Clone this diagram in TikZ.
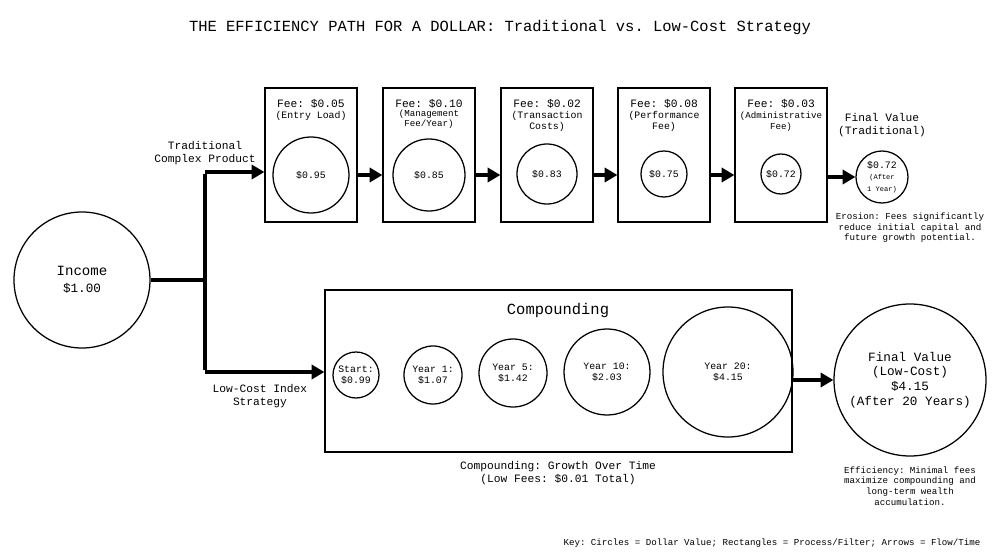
\documentclass[tikz,border=0pt]{standalone}
\usepackage{fontspec}
\setmainfont{Liberation Mono}
\frenchspacing
\usetikzlibrary{arrows.meta}
\begin{document}
\begin{tikzpicture}[x=0.025cm,y=-0.025cm,
    money/.style={shape=circle,draw=black,line width=0.9pt,inner sep=0pt,align=center,font=\fontsize{7}{8}\selectfont},
    feebox/.style={shape=rectangle,draw=black,line width=0.9pt,minimum width=92*0.025cm,minimum height=134*0.025cm},
    note/.style={align=center,font=\fontsize{7}{8}\selectfont},
    flow/.style={-{Triangle[length=9pt,width=10pt]},line width=2.6pt}]
                \useasboundingbox (0,0) rectangle (1000,558);
                \node at (500,28) {\fontsize{11}{13}\selectfont THE EFFICIENCY PATH FOR A DOLLAR: Traditional vs. Low-Cost Strategy};

                \node[money,minimum size=136*0.025cm,font=\fontsize{10}{12}\selectfont] (Inc) at (82,280) {Income\\{\fontsize{9}{10}\selectfont \$1.00}};
                \coordinate (J) at (205,280);
                \coordinate (JT) at (205,172);
                \coordinate (JL) at (205,372);
                \node[note,font=\fontsize{8}{9}\selectfont] at (205,153) {Traditional\\Complex Product};
                \node[note,font=\fontsize{8}{9}\selectfont] at (260,396) {Low-Cost Index\\Strategy};

                % traditional product
                \node[feebox] (B1) at (311,155) {};
                \node[feebox] (B2) at (429,155) {};
                \node[feebox] (B3) at (547,155) {};
                \node[feebox] (B4) at (664,155) {};
                \node[feebox] (B5) at (781,155) {};
                \node[note,anchor=north] at (311,94) {\fontsize{8}{9}\selectfont Fee: \$0.05\\(Entry Load)};
                \node[note,anchor=north,font=\fontsize{6.5}{7}\selectfont] at (429,94) {{\fontsize{8}{9}\selectfont Fee: \$0.10}\\(Management\\Fee/Year)};
                \node[note,anchor=north,font=\fontsize{7}{8}\selectfont] at (547,94) {{\fontsize{8}{9}\selectfont Fee: \$0.02}\\(Transaction\\Costs)};
                \node[note,anchor=north,font=\fontsize{7}{8}\selectfont] at (664,94) {{\fontsize{8}{9}\selectfont Fee: \$0.08}\\(Performance\\Fee)};
                \node[note,anchor=north,font=\fontsize{6.5}{8}\selectfont] at (781,94) {{\fontsize{8}{9}\selectfont Fee: \$0.03}\\(Administrative\\Fee)};
                \node[money,minimum size=76*0.025cm] (C1) at (311,175) {\$0.95};
                \node[money,minimum size=72*0.025cm] (C2) at (429,175) {\$0.85};
                \node[money,minimum size=60*0.025cm] (C3) at (547,174) {\$0.83};
                \node[money,minimum size=46*0.025cm] (C4) at (664,174) {\$0.75};
                \node[money,minimum size=40*0.025cm] (C5) at (781,174) {\$0.72};
                \node[money,minimum size=52*0.025cm] (FT) at (882,177) {\$0.72\\{\fontsize{5}{6}\selectfont (After}\\{\fontsize{5}{6}\selectfont 1 Year)}};
                \node[note,font=\fontsize{8}{9}\selectfont] at (882,125) {Final Value\\(Traditional)};
                \node[note,font=\fontsize{6.5}{7.5}\selectfont] at (910,228) {Erosion: Fees significantly\\reduce initial capital and\\future growth potential.};

                % low-cost strategy
                \node[shape=rectangle,draw=black,line width=0.9pt,minimum width=467*0.025cm,minimum height=162*0.025cm] (Box) at (558.5,371) {};
                \node[font=\fontsize{11}{13}\selectfont] at (558,310) {Compounding};
                \node[money,minimum size=46*0.025cm] (S0) at (356,375) {Start:\\\$0.99};
                \node[money,minimum size=58*0.025cm] (S1) at (433,375) {Year 1:\\\$1.07};
                \node[money,minimum size=68*0.025cm] (S5) at (513,373) {Year 5:\\\$1.42};
                \node[money,minimum size=86*0.025cm] (S10) at (607,372) {Year 10:\\\$2.03};
                \node[money,minimum size=130*0.025cm] (S20) at (728,372) {Year 20:\\\$4.15};
                \node[money,minimum size=152*0.025cm,font=\fontsize{9}{10.5}\selectfont] (FL) at (910,380) {Final Value\\(Low-Cost)\\\$4.15\\(After 20 Years)};
                \node[note,font=\fontsize{8}{9}\selectfont] at (558,473) {Compounding: Growth Over Time\\(Low Fees: \$0.01 Total)};
                \node[note,font=\fontsize{6.5}{7.5}\selectfont] at (910,486) {Efficiency: Minimal fees\\maximize compounding and\\long-term wealth\\accumulation.};
                \node[font=\fontsize{6.5}{7.5}\selectfont] at (772,543) {Key: Circles = Dollar Value; Rectangles = Process/Filter; Arrows = Flow/Time};

                \draw[line width=2.6pt] (Inc.east) -- (J);
                \draw[line width=2.6pt] ([yshift=-1.3pt]JT) -- ([yshift=1.3pt]JL);
                \draw[flow] (JT) -- (B1.west|-JT);
                \draw[flow] (JL) -- (Box.west|-JL);
                \draw[flow] (B1.east|-C1) -- (B2.west|-C1);
                \draw[flow] (B2.east|-C1) -- (B3.west|-C1);
                \draw[flow] (B3.east|-C1) -- (B4.west|-C1);
                \draw[flow] (B4.east|-C1) -- (B5.west|-C1);
                \draw[flow] (B5.east|-FT) -- (FT.west);
                \draw[flow] (Box.east|-FL) -- (FL.west);
            \end{tikzpicture}
\end{document}
